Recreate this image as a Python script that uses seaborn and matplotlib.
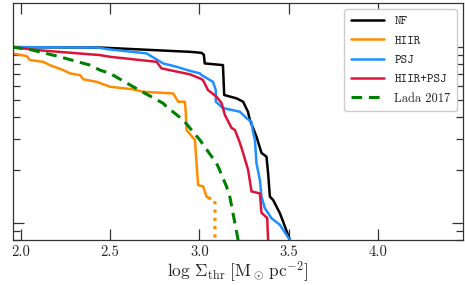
import numpy as np
import pandas as pd
import matplotlib
matplotlib.use("Agg")
import matplotlib.pyplot as plt
import seaborn as sns

# ---- data ----
nf_x = [1.95, 2.44, 2.95, 3.012, 3.025, 3.03, 3.132, 3.139, 3.208, 3.245, 3.272,
        3.283, 3.320, 3.348, 3.376, 3.385, 3.395, 3.413, 3.451, 3.469, 3.507, 3.53]
nf_y = [1.0, 0.995, 0.94, 0.928, 0.905, 0.808, 0.790, 0.534, 0.511, 0.489, 0.429,
        0.385, 0.309, 0.250, 0.238, 0.192, 0.141, 0.135, 0.1135, 0.1017, 0.0799, 0.06]

psj_x = [1.95, 2.424, 2.499, 2.704, 2.797, 2.872, 2.947, 3.003, 3.012, 3.076, 3.092,
         3.092, 3.132, 3.227, 3.264, 3.292, 3.298, 3.311, 3.320, 3.339, 3.348, 3.367,
         3.404, 3.451, 3.507, 3.53]
psj_y = [1.0, 0.995, 0.970, 0.921, 0.808, 0.773, 0.733, 0.709, 0.693, 0.635, 0.570,
         0.489, 0.450, 0.429, 0.394, 0.376, 0.338, 0.296, 0.218, 0.175, 0.141, 0.121,
         0.1063, 0.0974, 0.0799, 0.06]

hp_x = [1.95, 2.10, 2.443, 2.499, 2.760, 2.788, 2.853, 2.947, 3.003, 3.020, 3.048,
        3.096, 3.124, 3.143, 3.180, 3.199, 3.227, 3.245, 3.273, 3.292, 3.339, 3.348,
        3.380, 3.385, 3.39]
hp_y = [1.0, 0.96, 0.901, 0.881, 0.825, 0.757, 0.733, 0.700, 0.664, 0.650, 0.570,
        0.522, 0.481, 0.411, 0.347, 0.338, 0.285, 0.250, 0.200, 0.151, 0.147, 0.114,
        0.1067, 0.0799, 0.06]

hiir_x = [1.95, 1.976, 2.032, 2.050, 2.125, 2.162, 2.237, 2.275, 2.331, 2.349, 2.424,
          2.499, 2.629, 2.685, 2.853, 2.881, 2.919, 2.924, 2.928, 2.975, 2.984, 2.993,
          3.021, 3.040, 3.049]
hiir_y = [0.915, 0.912, 0.889, 0.844, 0.825, 0.790, 0.740, 0.709, 0.693, 0.656, 0.635,
          0.595, 0.575, 0.557, 0.545, 0.489, 0.489, 0.420, 0.338, 0.296, 0.218, 0.164,
          0.161, 0.141, 0.139]
hiir_dot_x = [3.049, 3.087, 3.087]
hiir_dot_y = [0.139, 0.135, 0.06]

lada_x = [1.95, 2.050, 2.218, 2.387, 2.443, 2.499, 2.629, 2.797, 2.816, 2.909, 3.003,
          3.096, 3.105, 3.152, 3.171, 3.217, 3.24]
lada_y = [1.0, 0.970, 0.881, 0.790, 0.740, 0.709, 0.595, 0.479, 0.458, 0.385, 0.296,
          0.218, 0.209, 0.161, 0.140, 0.0799, 0.06]

labels = ["NF", "HIIR", "PSJ", "HIIR+PSJ", "Lada 2017"]
colors = ["black", "#FF8C00", "#1E90FF", "#DC143C", "#008000"]
xticks = [2.0, 2.5, 3.0, 3.5, 4.0]

sns.set_style("ticks")
plt.rcParams["font.family"] = ["cmr10", "DejaVu Serif"]
plt.rcParams["mathtext.fontset"] = "cm"
plt.rcParams["axes.unicode_minus"] = False
plt.rcParams["axes.formatter.use_mathtext"] = True

fig = plt.figure(figsize=(4.65, 2.85), dpi=100)
ax = fig.add_axes([0.027, 0.158, 0.969, 0.831])

lw = 1.8
sns.lineplot(x=nf_x, y=nf_y, sort=False, estimator=None, color=colors[0], lw=lw, ax=ax, label=labels[0])
sns.lineplot(x=hiir_x, y=hiir_y, sort=False, estimator=None, color=colors[1], lw=lw, ax=ax, label=labels[1])
sns.lineplot(x=hiir_dot_x, y=hiir_dot_y, sort=False, estimator=None, color=colors[1], lw=2.3,
             ls=(0, (1, 1.6)), ax=ax, label="_nolegend_")
sns.lineplot(x=psj_x, y=psj_y, sort=False, estimator=None, color=colors[2], lw=lw, ax=ax, label=labels[2])
sns.lineplot(x=hp_x, y=hp_y, sort=False, estimator=None, color=colors[3], lw=lw, ax=ax, label=labels[3])
sns.lineplot(x=lada_x, y=lada_y, sort=False, estimator=None, color=colors[4], lw=2.2,
             ls=(0, (3.5, 2.2)), ax=ax, label=labels[4])

ax.set_yscale("log")
ax.set_xlim(1.953, 4.478)
ax.set_ylim(0.0799, 1.78)
ax.set_xticks(xticks)
ax.set_xticklabels([f"{t:.1f}" for t in xticks], fontsize=10.5)
ax.yaxis.set_major_formatter(matplotlib.ticker.NullFormatter())
ax.yaxis.set_minor_formatter(matplotlib.ticker.NullFormatter())
ax.xaxis.set_minor_locator(matplotlib.ticker.NullLocator())
ax.tick_params(which="both", direction="in", top=True, right=True, color="#333333")
ax.tick_params(which="major", length=8, width=0.9)
ax.tick_params(which="minor", length=5, width=0.9)
for s in ax.spines.values():
    s.set_color("#333333")
    s.set_linewidth(0.9)

ax.set_xlabel(r"$\log\,\Sigma_{\rm thr}\ [{\rm M_\odot\,pc^{-2}}]$", fontsize=12.5, labelpad=1)
ax.set_ylabel("")

leg = ax.legend(loc="upper right", fontsize=9.0, handlelength=2.7, labelspacing=0.6,
                borderaxespad=0.5, frameon=True, fancybox=True, framealpha=1.0,
                edgecolor="#cccccc", borderpad=0.5, handletextpad=0.8)
for t in leg.get_texts():
    if t.get_text() != "Lada 2017":
        t.set_family("cmtt10")

fig.savefig("out.png", dpi=100)
